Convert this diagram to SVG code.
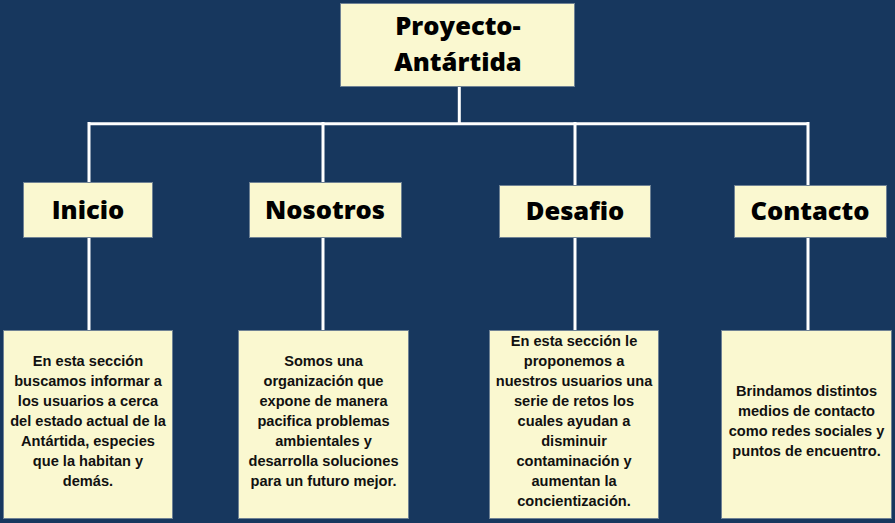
<svg xmlns="http://www.w3.org/2000/svg" width="895" height="523" viewBox="0 0 895 523">
<style>
.bg{fill:#17375e}
.box{fill:#faf8d0;stroke:#6f8294;stroke-width:1}
.conn{stroke:#ffffff;stroke-width:3;fill:none}
.t1{font-family:"Open Sans","DejaVu Sans",sans-serif;font-weight:800;font-size:25.5px;fill:#000;text-anchor:middle}
.t2{font-family:"Liberation Sans",Arial,sans-serif;font-weight:700;font-size:14.6px;fill:#111;text-anchor:middle}
</style>
<rect class="bg" x="0" y="0" width="895" height="523"/>
<g id="connectors">
<path class="conn" d="M459.3 87V123.7M87.5 123.7H809.5M89 122V182M323 122V182M575 122V185M808 122V185"/>
<path class="conn" d="M89 238V330M323 238V330M575 238V330M808 238V330"/>
</g>
<g id="root">
<rect class="box" x="340.5" y="3.5" width="234" height="83"/>
<text class="t1" x="458" y="35">Proyecto-</text>
<text class="t1" x="458" y="71">Antártida</text>
</g>
<g id="inicio">
<rect class="box" x="23.5" y="182.5" width="129" height="55"/>
<text class="t1" x="88" y="219">Inicio</text>
</g>
<g id="nosotros">
<rect class="box" x="249.5" y="182.5" width="152" height="55"/>
<text class="t1" x="325" y="219">Nosotros</text>
</g>
<g id="desafio">
<rect class="box" x="499.5" y="185.5" width="151" height="52"/>
<text class="t1" x="575" y="220">Desafio</text>
</g>
<g id="contacto">
<rect class="box" x="734.5" y="185.5" width="152" height="52"/>
<text class="t1" x="810" y="220">Contacto</text>
</g>
<g id="inicio-desc">
<rect class="box" x="3.5" y="330.5" width="169" height="188"/>
<text class="t2" x="88" y="366">En esta sección</text>
<text class="t2" x="88" y="386">buscamos informar a</text>
<text class="t2" x="88" y="406">los usuarios a cerca</text>
<text class="t2" x="88" y="426">del estado actual de la</text>
<text class="t2" x="88" y="446">Antártida, especies</text>
<text class="t2" x="88" y="466">que la habitan y</text>
<text class="t2" x="88" y="486">demás.</text>
</g>
<g id="nosotros-desc">
<rect class="box" x="238.5" y="330.5" width="170" height="188"/>
<text class="t2" x="323.5" y="366">Somos una</text>
<text class="t2" x="323.5" y="386">organización que</text>
<text class="t2" x="323.5" y="406">expone de manera</text>
<text class="t2" x="323.5" y="426">pacifica problemas</text>
<text class="t2" x="323.5" y="446">ambientales y</text>
<text class="t2" x="323.5" y="466">desarrolla soluciones</text>
<text class="t2" x="323.5" y="486">para un futuro mejor.</text>
</g>
<g id="desafio-desc">
<rect class="box" x="489.5" y="330.5" width="169" height="188"/>
<text class="t2" x="574" y="346">En esta sección le</text>
<text class="t2" x="574" y="366">proponemos a</text>
<text class="t2" x="574" y="386">nuestros usuarios una</text>
<text class="t2" x="574" y="406">serie de retos los</text>
<text class="t2" x="574" y="426">cuales ayudan a</text>
<text class="t2" x="574" y="446">disminuir</text>
<text class="t2" x="574" y="466">contaminación y</text>
<text class="t2" x="574" y="486">aumentan la</text>
<text class="t2" x="574" y="506">concientización.</text>
</g>
<g id="contacto-desc">
<rect class="box" x="721.5" y="330.5" width="170" height="188"/>
<text class="t2" x="806.5" y="396">Brindamos distintos</text>
<text class="t2" x="806.5" y="416">medios de contacto</text>
<text class="t2" x="806.5" y="436">como redes sociales y</text>
<text class="t2" x="806.5" y="456">puntos de encuentro.</text>
</g>
</svg>
